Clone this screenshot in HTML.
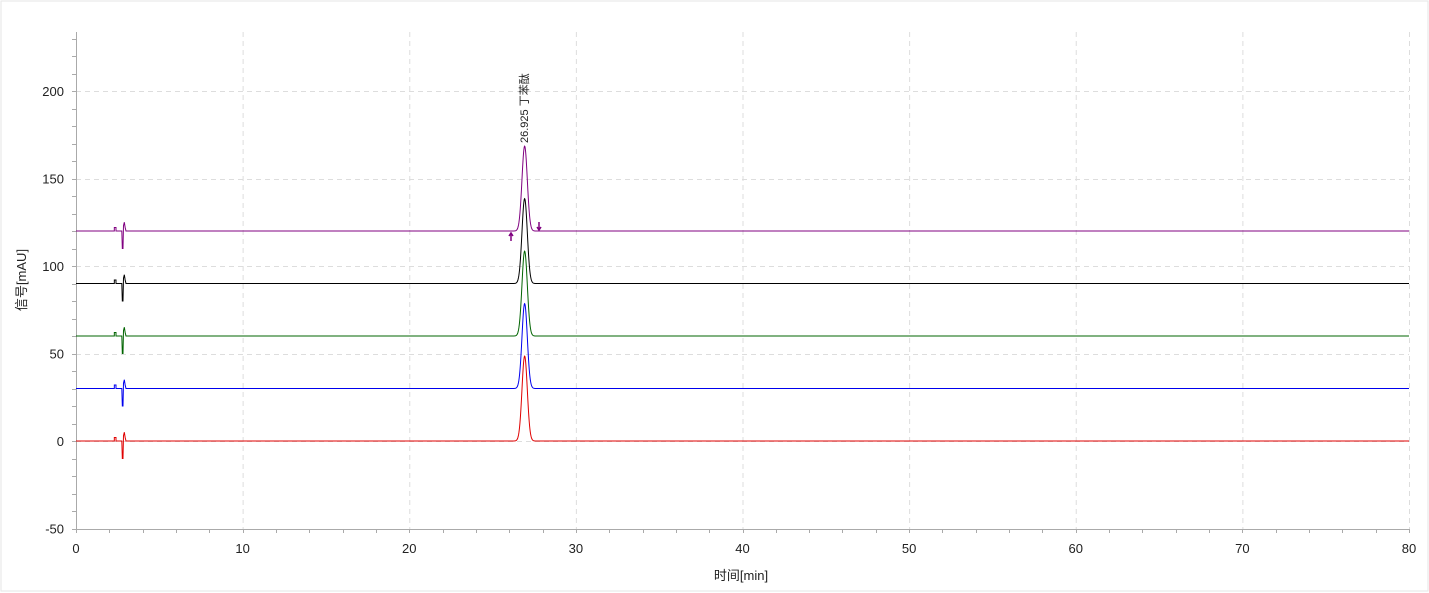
<!DOCTYPE html>
<html><head><meta charset="utf-8"><style>
html,body{margin:0;padding:0;background:#fff;}
svg{display:block;}
text{font-family:"Liberation Sans","Noto Sans CJK SC",sans-serif;fill:#222;}
</style></head><body>
<svg id="s" width="1429" height="593" xmlns="http://www.w3.org/2000/svg">
<rect x="1" y="1" width="1427" height="590" fill="#fff" stroke="#e6e6e6"/>
<g id="grid" stroke="#dddddd" stroke-dasharray="5,4" stroke-width="1"></g>
<g id="ax" stroke="#aaa" stroke-width="1"></g>
<g id="lbl" font-size="13"></g>
<g id="series" fill="none" stroke-width="1"></g>
<text x="0" y="0" font-size="11" transform="translate(528,143) rotate(-90)">26.925  丁苯酞</text>
<text x="0" y="0" font-size="13" transform="translate(26,280) rotate(-90)" text-anchor="middle">信号[mAU]</text>
<text x="741" y="580" font-size="13" text-anchor="middle">时间[min]</text>
<path d="M511,233 l0,8 M509,236 l2,-3 l2,3" stroke="#800080" fill="none" stroke-width="1.5"/>
<path d="M539,222 l0,8 M537,227 l2,3 l2,-3" stroke="#800080" fill="none" stroke-width="1.5"/>
</svg>
<script>
const X=t=>76+t*16.6625, Y=v=>441-v*1.75;
const ns="http://www.w3.org/2000/svg";
function el(p,tag,a,txt){const e=document.createElementNS(ns,tag);for(const k in a)e.setAttribute(k,a[k]);if(txt!=null)e.textContent=txt;document.getElementById(p).appendChild(e);}
for(let t=10;t<=80;t+=10)el("grid","line",{x1:X(t)+.5,x2:X(t)+.5,y1:32,y2:529});
for(let v=-50;v<=200;v+=50)if(v!=-50)el("grid","line",{x1:76,x2:1409,y1:Math.round(Y(v))+.5,y2:Math.round(Y(v))+.5});
el("ax","line",{x1:76.5,x2:76.5,y1:32,y2:529});
el("ax","line",{x1:76,x2:1409,y1:529.5,y2:529.5});
for(let v=-50;v<=230;v+=10){const y=Math.round(Y(v))+.5;el("ax","line",{x1:72,x2:76,y1:y,y2:y});}
for(let t=0;t<=80;t+=2){const x=Math.round(X(t))+.5;el("ax","line",{x1:x,x2:x,y1:529,y2:533});}
for(let v=-50;v<=200;v+=50)el("lbl","text",{x:64,y:Y(v)+5,"text-anchor":"end"},v);
for(let t=0;t<=80;t+=10)el("lbl","text",{x:X(t),y:553,"text-anchor":"middle"},t);
const S=[[0,"#e00000"],[30,"#0000ee"],[60,"#006400"],[90,"#000"],[120,"#800080"]];
for(const [b,c] of S){
 let d=`M${X(0)},${Y(b)}`;
 d+=` L${X(2.3)},${Y(b)} L${X(2.3)},${Y(b+2)} L${X(2.4)},${Y(b+2)} L${X(2.4)},${Y(b)}`;
 d+=` L${X(2.75)},${Y(b)} L${X(2.78)},${Y(b-10)} L${X(2.82)},${Y(b-10)} L${X(2.85)},${Y(b+3)} L${X(2.9)},${Y(b+5)} L${X(2.95)},${Y(b+2)} L${X(3.0)},${Y(b)}`;
 for(let t=25.5;t<=28.5;t+=0.02){const v=b+48.5*Math.exp(-Math.pow((t-26.925)/0.16,2)/2);d+=` L${X(t).toFixed(2)},${Y(v).toFixed(2)}`;}
 d+=` L${X(80)},${Y(b)}`;
 el("series","path",{d:d,stroke:c});
}
</script>
</body></html>
